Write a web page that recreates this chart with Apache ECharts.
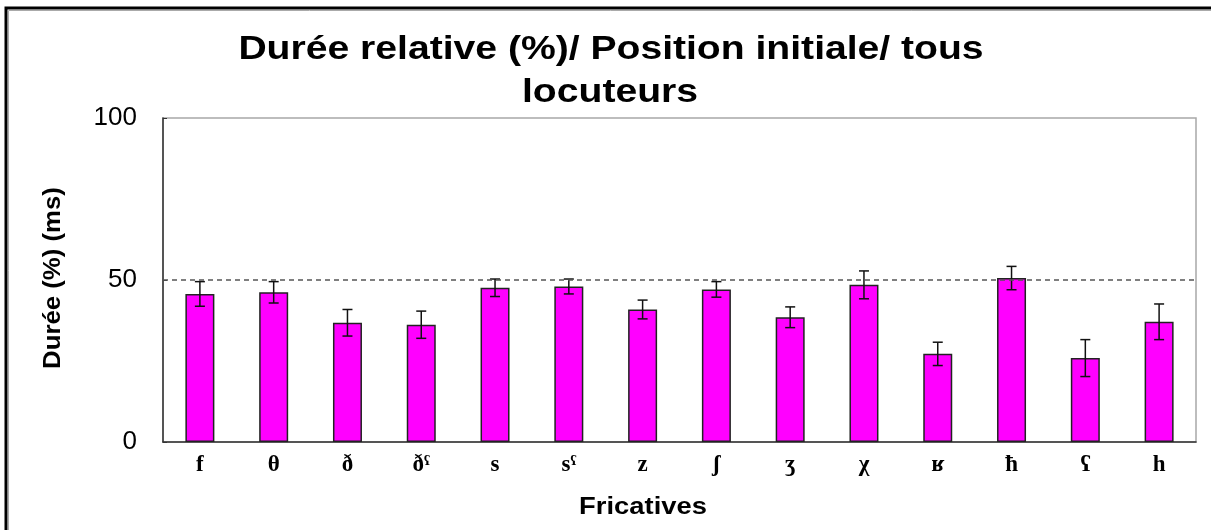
<!DOCTYPE html>
<html>
<head>
<meta charset="utf-8">
<script src="https://cdn.jsdelivr.net/npm/echarts@6/dist/echarts.min.js"></script>
<style>
  html, body { margin: 0; padding: 0; background: #fff; }
  #chart { width: 1211px; height: 530px; }
</style>
</head>
<body>
<div id="chart"></div>
<script>
// Fricatives (IPA) on the x axis
const categories = ['f', 'θ', 'ð', 'ðˤ', 's', 'sˤ', 'z', 'ʃ', 'ʒ', 'χ', 'ʁ', 'ħ', 'ʕ', 'h'];
// Mean relative duration (%) per fricative
const values = [45.7, 46.2, 36.8, 36.2, 47.6, 48.0, 40.9, 47.1, 38.5, 48.5, 27.2, 50.6, 25.9, 37.1];
// Half-width of the error bar for each fricative
const errors = [3.8, 3.3, 4.1, 4.2, 2.7, 2.3, 2.9, 2.4, 3.2, 4.3, 3.6, 3.6, 5.7, 5.5];
// Reference level drawn as a dashed line
const referenceLevel = 50;
const yTicks = { min: 0, max: 100, interval: 50 };

const titleLines = ['Durée relative (%)/ Position initiale/ tous', 'locuteurs'];
const yName = 'Durée (%) (ms)';
const xName = 'Fricatives';

const chart = echarts.init(document.getElementById('chart'), null, { renderer: 'canvas' });

const sans = "'Liberation Sans', Arial, sans-serif";
const serif = "'Liberation Serif', 'DejaVu Serif', serif";

const errorData = categories.map((c, i) => [i, values[i] - errors[i], values[i] + errors[i]]);

function renderErrorBar(params, api) {
  const idx = api.value(0);
  const lo = api.coord([idx, api.value(1)]);
  const hi = api.coord([idx, api.value(2)]);
  const half = 5;
  const style = { stroke: '#111', lineWidth: 1.5 };
  return {
    type: 'group',
    children: [
      { type: 'line', shape: { x1: lo[0], y1: lo[1], x2: hi[0], y2: hi[1] }, style },
      { type: 'line', shape: { x1: hi[0] - half, y1: hi[1], x2: hi[0] + half, y2: hi[1] }, style },
      { type: 'line', shape: { x1: lo[0] - half, y1: lo[1], x2: lo[0] + half, y2: lo[1] }, style }
    ]
  };
}

const option = {
  animation: false,
  backgroundColor: '#fff',
  grid: {
    left: 163, right: 15, top: 118, bottom: 88,
    show: true, borderColor: '#a8a8a8', borderWidth: 1.5, backgroundColor: 'transparent'
  },
  xAxis: {
    type: 'category',
    data: categories,
    axisLine: { show: true, lineStyle: { color: '#333', width: 1.5 } },
    axisTick: { show: false },
    axisLabel: {
      color: '#000', fontFamily: serif, fontWeight: 'bold', fontSize: 23, margin: 12
    }
  },
  yAxis: {
    type: 'value',
    min: yTicks.min, max: yTicks.max, interval: yTicks.interval,
    axisLine: { show: true, lineStyle: { color: '#333', width: 1.5 } },
    axisTick: { show: true, inside: true, length: 4, lineStyle: { color: '#333' } },
    splitLine: { show: false },
    axisLabel: { color: '#000', fontFamily: sans, fontSize: 26, margin: 26 }
  },
  series: [
    {
      type: 'bar',
      data: values,
      barWidth: 29,
      itemStyle: { color: '#ff00ff', borderColor: '#222', borderWidth: 1.5 },
      markLine: {
        silent: true,
        symbol: 'none',
        label: { show: false },
        lineStyle: { color: '#555', type: [5, 4], width: 1.5 },
        data: [{ yAxis: referenceLevel }]
      },
      z: 2
    },
    {
      type: 'custom',
      data: errorData,
      renderItem: renderErrorBar,
      z: 3
    }
  ],
  graphic: [
    {
      type: 'rect', silent: true,
      shape: { x: 6, y: 8, width: 1400, height: 700 },
      style: { fill: 'none', stroke: '#000', lineWidth: 3 }
    },
    {
      type: 'rect', silent: true,
      shape: { x: 8.5, y: 10.5, width: 1400, height: 700 },
      style: { fill: 'none', stroke: '#aaa', lineWidth: 1 }
    },
    {
      type: 'text', x: 611, y: 50, scaleX: 1.15,
      style: { text: titleLines[0], font: `bold 34px ${sans}`, fill: '#000', textAlign: 'center', textVerticalAlign: 'middle' }
    },
    {
      type: 'text', x: 610, y: 93, scaleX: 1.15,
      style: { text: titleLines[1], font: `bold 34px ${sans}`, fill: '#000', textAlign: 'center', textVerticalAlign: 'middle' }
    },
    {
      type: 'text', x: 54, y: 278, rotation: Math.PI / 2, scaleX: 1.12,
      style: { text: yName, font: `bold 23px ${sans}`, fill: '#000', textAlign: 'center', textVerticalAlign: 'middle' }
    },
    {
      type: 'text', x: 643, y: 507, scaleX: 1.14,
      style: { text: xName, font: `bold 24px ${sans}`, fill: '#000', textAlign: 'center', textVerticalAlign: 'middle' }
    }
  ]
};

chart.setOption(option);
</script>
</body>
</html>
